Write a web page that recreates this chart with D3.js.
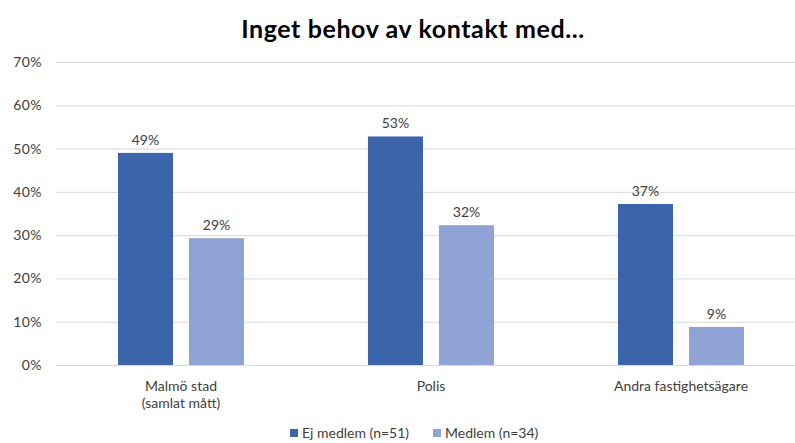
<!DOCTYPE html>
<html>
<head>
<meta charset="utf-8">
<script src="https://cdn.jsdelivr.net/npm/d3@7"></script>
<style>
  body { margin: 0; background: #fff; }
  text { font-family: "Lato", "Noto Sans", sans-serif; }
</style>
</head>
<body>
<svg></svg>
<script>
// Inget behov av kontakt med...

let svgWidth = 795;
let svgHeight = 443;

let kategorier = [["Malmö stad", "(samlat mått)"], ["Polis"], ["Andra fastighetsägare"]];
let serier = ["Ej medlem (n=51)", "Medlem (n=34)"];
let ejMedlem = [0.49, 0.528, 0.372];
let medlem = [0.293, 0.323, 0.088];
let yTicks = [0, 0.1, 0.2, 0.3, 0.4, 0.5, 0.6, 0.7];
let farger = ["#3c64ab", "#8fa4d4"];

let svg = d3.select("svg")
  .attr("width", svgWidth)
  .attr("height", svgHeight);

let plotTop = 62, plotBottom = 365, plotLeft = 56, plotRight = 806;

let x0 = d3.scaleBand()
  .domain(d3.range(kategorier.length))
  .range([plotLeft, plotRight]);

let x1 = d3.scaleBand()
  .domain(d3.range(serier.length))
  .range([0, x0.bandwidth()])
  .paddingInner(0.225)
  .paddingOuter(0.873);

let y = d3.scaleLinear()
  .domain([0, 0.7])
  .range([plotBottom, plotTop]);

let pct = d3.format(".0%");

// title
svg.append("text")
  .attr("x", 413)
  .attr("y", 38)
  .attr("text-anchor", "middle")
  .style("font-size", "25px")
  .style("font-weight", "bold")
  .style("letter-spacing", "0.6px")
  .attr("fill", "#000")
  .text("Inget behov av kontakt med...");

// grid
let yAxis = svg.append("g")
  .attr("transform", "translate(" + plotLeft + ",0)")
  .call(d3.axisLeft(y).tickValues(yTicks).tickFormat(pct).tickSize(-(plotRight - plotLeft)).tickPadding(14));
yAxis.select(".domain").remove();
yAxis.selectAll(".tick line").attr("stroke", "#d9d9d9").attr("stroke-width", 1);
yAxis.selectAll(".tick text").attr("fill", "#404040").style("font-size", "14px").style("letter-spacing", "0.4px");

// bars
let rader = kategorier.map((k, i) => [ejMedlem[i], medlem[i]]);

let grupp = svg.selectAll(".grupp")
  .data(rader)
  .enter()
  .append("g")
  .attr("transform", (d, i) => "translate(" + x0(i) + ",0)");

grupp.selectAll("rect")
  .data(d => d)
  .enter()
  .append("rect")
  .attr("x", (d, j) => x1(j))
  .attr("y", d => y(d))
  .attr("width", x1.bandwidth())
  .attr("height", d => y(0) - y(d))
  .attr("fill", (d, j) => farger[j]);

grupp.selectAll(".etikett")
  .data(d => d)
  .enter()
  .append("text")
  .attr("class", "etikett")
  .attr("x", (d, j) => x1(j) + x1.bandwidth() / 2)
  .attr("y", d => y(d) - 8)
  .attr("text-anchor", "middle")
  .attr("fill", "#404040")
  .style("font-size", "14px")
  .text(d => pct(d));

// category labels
let kat = svg.selectAll(".kat")
  .data(kategorier)
  .enter()
  .append("text")
  .attr("class", "kat")
  .attr("x", (d, i) => x0(i) + x0.bandwidth() / 2)
  .attr("y", 391)
  .attr("text-anchor", "middle")
  .attr("fill", "#404040")
  .style("font-size", "14px");

kat.selectAll("tspan")
  .data(d => d)
  .enter()
  .append("tspan")
  .attr("x", function () { return d3.select(this.parentNode).attr("x"); })
  .attr("dy", (d, j) => j === 0 ? 0 : 17)
  .text(d => d);

// legend
let legendX = [290, 433];
let legend = svg.selectAll(".legend")
  .data(serier)
  .enter()
  .append("g")
  .attr("transform", (d, i) => "translate(" + legendX[i] + ",429)");

legend.append("rect")
  .attr("width", 8)
  .attr("height", 8)
  .attr("fill", (d, i) => farger[i]);

legend.append("text")
  .attr("x", 12)
  .attr("y", 9)
  .attr("fill", "#404040")
  .style("font-size", "14px")
  .text(d => d);
</script>
</body>
</html>
